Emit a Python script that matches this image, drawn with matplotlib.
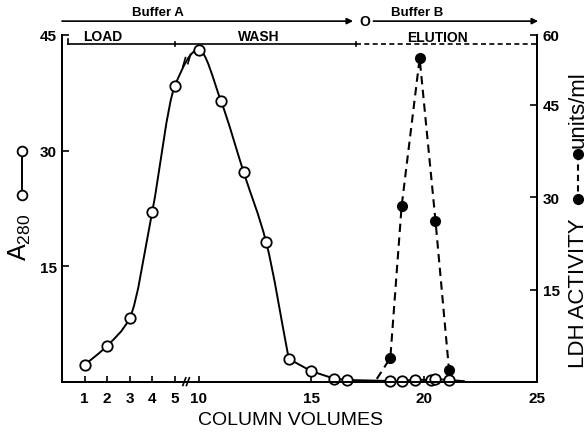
import numpy as np
import matplotlib
matplotlib.use('Agg')
import matplotlib.pyplot as plt
from matplotlib.path import Path
from matplotlib.patches import PathPatch
from matplotlib.lines import Line2D

plt.rcParams['font.family'] = ['Liberation Sans', 'DejaVu Sans']

# A280 (open circles)
vol_a280 = [1, 2, 3, 4, 5, 10, 11, 12, 13, 14, 15, 16, 16.6,
            18.5, 19.0, 19.6, 20.3, 20.5, 21.1]
a280 = [2.2, 4.7, 8.3, 22.1, 38.4, 43.1, 36.4, 27.2, 18.1, 3.0, 1.4, 0.45, 0.26,
        0.13, 0.13, 0.3, 0.26, 0.39, 0.26]
a280_tail = (21.8, 0.1)  # line runs on a little past the last circle

# LDH activity (filled circles), units/ml
vol_ldh = [18.5, 19.0, 19.8, 20.5, 21.1]
ldh = [3.9, 28.5, 52.5, 26.2, 2.0]
ldh_start = (17.9, 0.5)  # dashed line starts here, no marker

xtick_vals = [1, 2, 3, 4, 5, 10, 15, 20, 25]
ytick_left = [15, 30, 45]
ytick_right = [15, 30, 45]
right_top = 56.3   # the drawn right scale tops out here, labelled 60

load_end, wash_end, buffer_switch = 5, 17, 17.35
kinks_from = 14    # curve is drawn with corners from here on


def pos(x):
    # broken x axis: 0-5 and 10-25 at the same scale, 5-10 squeezed into a gap
    x = np.asarray(x, float)
    return np.where(x <= 5, x + 3.95, np.where(x >= 10, x, 8.95 + (x - 5) * 0.21))


def smooth_path(x, y, corner):
    # monotone cubic (Fritsch-Carlson) as bezier segments, corners where asked
    x = np.asarray(x, float)
    y = np.asarray(y, float)
    h = np.diff(x)
    d = np.diff(y) / h
    m_in = np.empty_like(x)
    m_out = np.empty_like(x)
    m_in[0] = m_out[0] = d[0]
    m_in[-1] = m_out[-1] = d[-1]
    for i in range(1, len(x) - 1):
        if corner[i]:
            m_in[i], m_out[i] = d[i - 1], d[i]
        elif d[i - 1] * d[i] <= 0:
            m_in[i] = m_out[i] = 0.0
        else:
            w1 = 2 * h[i] + h[i - 1]
            w2 = h[i] + 2 * h[i - 1]
            m_in[i] = m_out[i] = (w1 + w2) / (w1 / d[i - 1] + w2 / d[i])
    verts = [(x[0], y[0])]
    codes = [Path.MOVETO]
    for i in range(len(h)):
        verts += [(x[i] + h[i] / 3, y[i] + m_out[i] * h[i] / 3),
                  (x[i + 1] - h[i] / 3, y[i + 1] - m_in[i + 1] * h[i] / 3),
                  (x[i + 1], y[i + 1])]
        codes += [Path.CURVE4] * 3
    return Path(verts, codes)


fig = plt.figure(figsize=(5.87, 4.35), dpi=100)
ax = fig.add_axes([62 / 587, 52 / 435, 475 / 587, 347 / 435])
ax2 = ax.twinx()

ax.set_xlim(pos(0), 25)
ax.set_ylim(0, 45)
ax2.set_ylim(0, right_top)

for a in (ax, ax2):
    a.spines['top'].set_visible(False)
    for s in ('left', 'right', 'bottom'):
        a.spines[s].set_linewidth(1.4)

# A280 curve
vols = np.append(vol_a280, a280_tail[0])
cx = pos(vols)
cy = np.append(a280, a280_tail[1])
path = smooth_path(cx, cy, vols >= kinks_from)
ax.add_patch(PathPatch(path, fill=False, lw=1.4, color='black', zorder=3))
ax.plot(pos(vol_a280), a280, ls='none', marker='o', ms=7.5, mfc='white',
        mec='black', mew=1.3, zorder=4, clip_on=False)

# break marks on the curve between 5 and 10
seg = path.vertices[1 + 3 * 4 - 1: 1 + 3 * 5]
bp = (seg[0] + 3 * seg[1] + 3 * seg[2] + seg[3]) / 8
inv = ax.transData.inverted()
bx, by = ax.transData.transform(bp)
for off in (-2.5, 2.5):
    p0 = inv.transform((bx + off - 1.3, by - 4.5 + off * 0.6))
    p1 = inv.transform((bx + off + 1.3, by + 4.5 + off * 0.6))
    ax.plot([p0[0], p1[0]], [p0[1], p1[1]], color='black', lw=1.2, zorder=5)

# break marks on the x axis
gap = (pos(5) + pos(10)) / 2
xb = ax.get_xaxis_transform()
for off in (-0.12, 0.04):
    ax.plot([gap + off - 0.05, gap + off + 0.08], [-0.01, 0.012], transform=xb,
            color='black', lw=1.2, clip_on=False, zorder=5)

# LDH dashed curve
ax2.plot(np.append(pos(ldh_start[0]), pos(vol_ldh)), np.append(ldh_start[1], ldh),
         ls='--', dashes=(4, 2.6), lw=1.5, color='black', zorder=3)
ax2.plot(pos(vol_ldh), ldh, ls='none', marker='o', ms=7, color='black', zorder=4)

# ticks
ax.set_xticks(pos(xtick_vals))
ax.set_xticklabels([str(v) for v in xtick_vals])
ax.tick_params(axis='x', direction='in', length=4, width=1.2, pad=6.5, labelsize=11)
ax.set_yticks(ytick_left)
ax.tick_params(axis='y', direction='in', length=5, width=1.2, pad=3.5, labelsize=11)
ax2.set_yticks(ytick_right + [right_top])
ax2.set_yticklabels([str(v) for v in ytick_right] + ['60'])
ax2.tick_params(axis='y', direction='in', length=5, width=1.2, pad=4, labelsize=11)
for lbl in ax.get_xticklabels() + ax.get_yticklabels() + ax2.get_yticklabels():
    lbl.set_fontweight('bold')

# buffer arrows above the plot
ybuf = 1.040
arrow = dict(arrowstyle='-|>', lw=1.2, color='black', mutation_scale=9,
             shrinkA=0, shrinkB=0)
ax.annotate('', xy=(buffer_switch - 0.5, ybuf), xytext=(pos(0), ybuf),
            xycoords=xb, textcoords=xb, arrowprops=arrow, annotation_clip=False)
ax.annotate('', xy=(25.05, ybuf), xytext=(buffer_switch + 0.4, ybuf),
            xycoords=xb, textcoords=xb, arrowprops=arrow, annotation_clip=False)
ax.text(buffer_switch, ybuf, 'O', transform=xb, ha='center', va='center',
        fontsize=10, fontweight='bold')
ax.text(8.2, 1.066, 'Buffer A', transform=xb, ha='center', va='center',
        fontsize=9.5, fontweight='bold')
ax.text(19.7, 1.066, 'Buffer B', transform=xb, ha='center', va='center',
        fontsize=9.5, fontweight='bold')

# LOAD / WASH / ELUTION bracket
ybr = 0.974
kw = dict(transform=xb, color='black', clip_on=False)
ax.plot([pos(0) + 0.25, wash_end], [ybr, ybr], lw=1.2, **kw)
ax.plot([wash_end, 25], [ybr, ybr], lw=1.2, ls='--', dashes=(3, 2), **kw)
ax.plot([pos(0) + 0.25] * 2, [ybr, ybr + 0.014], lw=1.2, **kw)
for xv in (pos(load_end), wash_end):
    ax.plot([xv, xv], [ybr - 0.006, ybr + 0.006], lw=1.2, **kw)
ax.text(5.75, 0.997, 'LOAD', transform=xb, ha='center', va='center',
        fontsize=10, fontweight='bold')
ax.text(12.65, 0.997, 'WASH', transform=xb, ha='center', va='center',
        fontsize=10, fontweight='bold')
ax.text(20.6, 0.995, 'ELUTION', transform=xb, ha='center', va='center',
        fontsize=10, fontweight='bold')

# axis titles
fig.text(290 / 587, 1 - 421 / 435, 'COLUMN VOLUMES', ha='center', va='center',
         fontsize=14)
fig.text(20 / 587, 1 - 237 / 435, r'$\mathregular{A_{280}}$', rotation=90,
         ha='center', va='center', fontsize=18)
fig.add_artist(Line2D([22 / 587] * 2, [1 - 152 / 435, 1 - 196 / 435],
                      transform=fig.transFigure, color='black', lw=1.4,
                      marker='o', ms=7, mfc='white', mec='black', mew=1.3))
fig.text(578 / 587, 1 - 293 / 435, 'LDH ACTIVITY', rotation=90, ha='center',
         va='center', fontsize=16)
fig.add_artist(Line2D([578 / 587] * 2, [1 - 155 / 435, 1 - 200 / 435],
                      transform=fig.transFigure, color='black', lw=1.5,
                      ls='--', dashes=(3, 2), marker='o', ms=7))
fig.text(578 / 587, 1 - 110 / 435, 'units/ml', rotation=90, ha='center',
         va='center', fontsize=16)

fig.savefig('out.png', dpi=100)
